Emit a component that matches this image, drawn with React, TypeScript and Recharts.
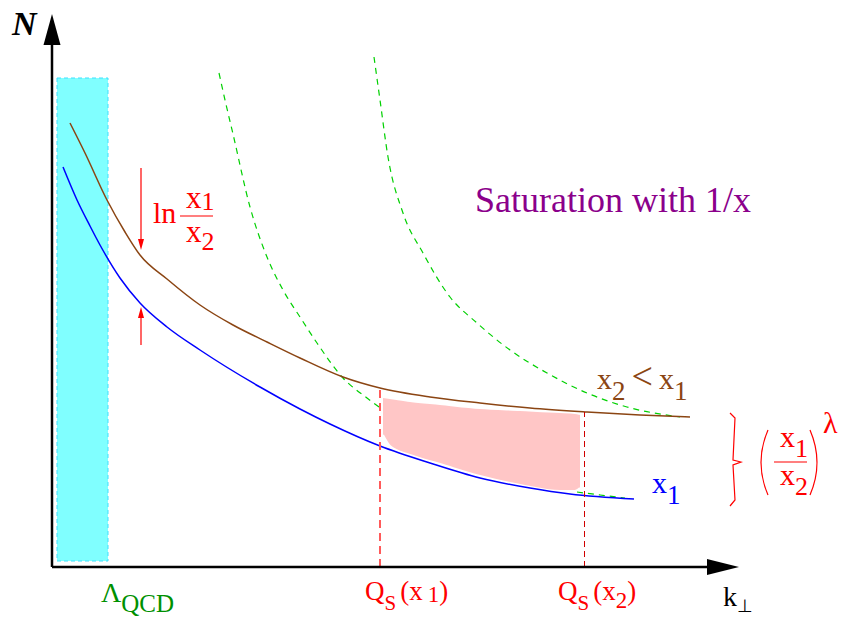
import React from "react";
import { ComposedChart, Line, Area, XAxis, YAxis, ReferenceArea, ReferenceLine, ReferenceDot } from "recharts";

// schematic units: x = k_perp, y = N, origin at the corner of the axes
const brownCurve: [number, number][] = [
  [18, 444], [33, 414], [55, 367], [73, 335], [88, 312], [115, 288], [148, 262], [181, 242],
  [215, 225], [248, 209], [291, 190], [328, 179], [378, 170], [428, 164], [478, 159], [535, 155],
  [588, 152], [638, 150],
];
const blueCurve: [number, number][] = [
  [11, 400], [25, 367], [38, 341], [48, 322], [68, 289], [88, 264], [115, 240], [148, 217],
  [208, 180], [248, 158], [278, 143], [328, 121], [378, 104], [428, 89], [478, 79], [518, 73],
  [582, 68],
];
// saturation curve for x1: the part hidden under the shaded band is left out
const satCurve1Upper: [number, number][] = [
  [167, 494], [173, 467], [181, 433], [198, 360], [215, 310], [231, 277], [248, 250], [265, 224],
  [291, 189], [315, 169], [331, 157],
];
const satCurve1Lower: [number, number][] = [
  [525, 75], [548, 72], [573, 69],
];
const satCurve2: [number, number][] = [
  [322, 510], [328, 467], [336, 410], [351, 354], [371, 314], [398, 270], [425, 244], [458, 217],
  [495, 194], [535, 174], [575, 160], [628, 150],
];
// shaded region between Q_S(x1) and Q_S(x2): [x, low, high]
const pinkBand: [number, number, number][] = [
  [331, 132, 170], [338, 121, 169], [358, 112, 166], [388, 103, 163], [428, 91, 159],
  [468, 82, 157], [508, 76, 155], [523, 76, 154], [528, 79, 153],
];
const braceLine: [number, number][] = [
  [678, 154], [683, 149], [681, 107], [689, 105], [681, 102], [683, 67], [678, 61],
];

const toXY = (arr: [number, number][]) => arr.map(([x, y]) => ({ x, y }));
const bandData = pinkBand.map(([x, lo, hi]) => ({ x, range: [lo, hi] }));

const SERIF = '"Liberation Serif", "Times New Roman", serif';

const txt = (render: (cx: number, cy: number) => React.ReactNode) => (p: any) => <g>{render(p.cx, p.cy)}</g>;

const lineProps = { dot: false, activeDot: false, isAnimationActive: false } as const;

export default function App() {
  return (
    <div style={{ position: "absolute", left: 0, top: 0, background: "#fff" }}>
      <ComposedChart width={843} height={620} margin={{ top: 0, right: 0, bottom: 0, left: 0 }}>
        <XAxis type="number" dataKey="x" domain={[-52, 791]} hide allowDataOverflow />
        <YAxis type="number" domain={[-53, 567]} hide allowDataOverflow />

        <ReferenceArea x1={5} x2={56} y1={6} y2={489} fill="#80ffff" fillOpacity={1}
          stroke="#3ee0ff" strokeDasharray="4 3" ifOverflow="visible" />

        <Area data={bandData} dataKey="range" type="monotone" fill="#ffc6c6" fillOpacity={1}
          stroke="#ffffff" strokeWidth={2} {...lineProps} />
        <Line data={toXY(satCurve1Upper)} dataKey="y" type="monotone" stroke="#00d000" strokeWidth={1.2}
          strokeDasharray="6 5" {...lineProps} />
        <Line data={toXY(satCurve1Lower)} dataKey="y" type="monotone" stroke="#00d000" strokeWidth={1.2}
          strokeDasharray="6 5" {...lineProps} />
        <Line data={toXY(satCurve2)} dataKey="y" type="monotone" stroke="#00d000" strokeWidth={1.2}
          strokeDasharray="6 5" {...lineProps} />
        <Line data={toXY(brownCurve)} dataKey="y" type="monotone" stroke="#8b4513" strokeWidth={1.5}
          {...lineProps} />
        <Line data={toXY(blueCurve)} dataKey="y" type="monotone" stroke="#0000ff" strokeWidth={1.5}
          {...lineProps} />
        <Line data={toXY(braceLine)} dataKey="y" type="linear" stroke="#ff0000" strokeWidth={1.2}
          {...lineProps} />

        {/* Q_S markers */}
        <ReferenceLine segment={[{ x: 328, y: 0 }, { x: 328, y: 179 }]} stroke="#ff5a5a" strokeWidth={2}
          strokeDasharray="8 5" ifOverflow="visible" />
        <ReferenceLine segment={[{ x: 532.5, y: 0 }, { x: 532.5, y: 155 }]} stroke="#d00000" strokeWidth={1}
          strokeDasharray="6 4" ifOverflow="visible" />

        {/* axes */}
        <ReferenceLine segment={[{ x: 0, y: 0 }, { x: 658, y: 0 }]} stroke="#000" strokeWidth={2.5} ifOverflow="visible" />
        <ReferenceLine segment={[{ x: 0, y: 0 }, { x: 0, y: 525 }]} stroke="#000" strokeWidth={2.5} ifOverflow="visible" />
        <ReferenceDot x={687} y={0} ifOverflow="visible"
          shape={txt((cx, cy) => <polygon points={`${cx},${cy} ${cx - 32},${cy - 8} ${cx - 32},${cy + 8}`} fill="#000" />)} />
        <ReferenceDot x={0} y={553} ifOverflow="visible"
          shape={txt((cx, cy) => <polygon points={`${cx},${cy} ${cx - 8.5},${cy + 31} ${cx + 8.5},${cy + 31}`} fill="#000" />)} />

        {/* ln(x1/x2) arrows */}
        <ReferenceLine segment={[{ x: 89, y: 399 }, { x: 89, y: 325 }]} stroke="#ff0000" strokeWidth={1.2} ifOverflow="visible" />
        <ReferenceLine segment={[{ x: 89, y: 222 }, { x: 89, y: 252 }]} stroke="#ff0000" strokeWidth={1.2} ifOverflow="visible" />
        <ReferenceDot x={89} y={317} ifOverflow="visible"
          shape={txt((cx, cy) => <polygon points={`${cx},${cy} ${cx - 3},${cy - 11} ${cx + 3},${cy - 11}`} fill="#ff0000" />)} />
        <ReferenceDot x={89} y={260} ifOverflow="visible"
          shape={txt((cx, cy) => <polygon points={`${cx},${cy} ${cx - 3},${cy + 11} ${cx + 3},${cy + 11}`} fill="#ff0000" />)} />

        {/* fraction bars and parentheses */}
        <ReferenceLine segment={[{ x: 128, y: 351 }, { x: 161, y: 351 }]} stroke="#ff0000" strokeWidth={1.2} ifOverflow="visible" />
        <ReferenceLine segment={[{ x: 722, y: 105 }, { x: 755, y: 105 }]} stroke="#ff0000" strokeWidth={1.2} ifOverflow="visible" />
        <ReferenceDot x={716} y={137} ifOverflow="visible"
          shape={txt((cx, cy) => <path d={`M${cx},${cy} Q${cx - 14},${cy + 32.5} ${cx},${cy + 65}`} stroke="#ff0000" strokeWidth={1.2} fill="none" />)} />
        <ReferenceDot x={758} y={137} ifOverflow="visible"
          shape={txt((cx, cy) => <path d={`M${cx},${cy} Q${cx + 14},${cy + 32.5} ${cx},${cy + 65}`} stroke="#ff0000" strokeWidth={1.2} fill="none" />)} />

        {/* labels */}
        <ReferenceDot x={-40} y={532} ifOverflow="visible" shape={txt((cx, cy) =>
          <text x={cx} y={cy} fontFamily={SERIF} fontSize={34} fontWeight="bold" fontStyle="italic" fill="#000">N</text>)} />
        <ReferenceDot x={423} y={355} ifOverflow="visible" shape={txt((cx, cy) =>
          <text x={cx} y={cy} fontFamily={SERIF} fontSize={36} fill="#8b008b">Saturation with 1/x</text>)} />
        <ReferenceDot x={101} y={344} ifOverflow="visible" shape={txt((cx, cy) =>
          <text x={cx} y={cy} fontFamily={SERIF} fontSize={30} fill="#ff0000">ln</text>)} />
        <ReferenceDot x={134} y={359} ifOverflow="visible" shape={txt((cx, cy) =>
          <text x={cx} y={cy} fontFamily={SERIF} fontSize={31} fill="#ff0000">x<tspan dy={2} fontSize={26}>1</tspan></text>)} />
        <ReferenceDot x={134} y={325} ifOverflow="visible" shape={txt((cx, cy) =>
          <text x={cx} y={cy} fontFamily={SERIF} fontSize={31} fill="#ff0000">x<tspan dy={8} fontSize={26}>2</tspan></text>)} />
        <ReferenceDot x={545} y={178} ifOverflow="visible" shape={txt((cx, cy) =>
          <text x={cx} y={cy} fontFamily={SERIF} fontSize={30} fill="#8b4513">x<tspan dy={11} fontSize={27}>2</tspan><tspan dy={-11} dx={6} fontSize={38}>&lt;</tspan><tspan dx={6} fontSize={30}>x</tspan><tspan dy={11} fontSize={27}>1</tspan></text>)} />
        <ReferenceDot x={600} y={74} ifOverflow="visible" shape={txt((cx, cy) =>
          <text x={cx} y={cy} fontFamily={SERIF} fontSize={30} fill="#0000ff">x<tspan dy={11} fontSize={27}>1</tspan></text>)} />
        <ReferenceDot x={728} y={120} ifOverflow="visible" shape={txt((cx, cy) =>
          <text x={cx} y={cy} fontFamily={SERIF} fontSize={30} fill="#ff0000">x<tspan dy={10} fontSize={26}>1</tspan></text>)} />
        <ReferenceDot x={728} y={82} ifOverflow="visible" shape={txt((cx, cy) =>
          <text x={cx} y={cy} fontFamily={SERIF} fontSize={30} fill="#ff0000">x<tspan dy={10} fontSize={26}>2</tspan></text>)} />
        <ReferenceDot x={771} y={134} ifOverflow="visible" shape={txt((cx, cy) =>
          <text x={cx} y={cy} fontFamily={SERIF} fontSize={30} fill="#ff0000">λ</text>)} />
        <ReferenceDot x={49} y={-35} ifOverflow="visible" shape={txt((cx, cy) =>
          <text x={cx} y={cy} fontFamily={SERIF} fontSize={28} fill="#009000">Λ<tspan dy={10} fontSize={25}>QCD</tspan></text>)} />
        <ReferenceDot x={313} y={-33} ifOverflow="visible" shape={txt((cx, cy) =>
          <text x={cx} y={cy} fontFamily={SERIF} fontSize={27} fill="#ff0000">Q<tspan dy={10} fontSize={21}>S</tspan><tspan dy={-10} dx={4} fontSize={27}>(x</tspan><tspan dy={2} dx={5} fontSize={23}>1</tspan><tspan dy={-2} fontSize={27}>)</tspan></text>)} />
        <ReferenceDot x={506} y={-33} ifOverflow="visible" shape={txt((cx, cy) =>
          <text x={cx} y={cy} fontFamily={SERIF} fontSize={27} fill="#ff0000">Q<tspan dy={10} fontSize={21}>S</tspan><tspan dy={-10} dx={4} fontSize={27}>(x</tspan><tspan dy={8} fontSize={23}>2</tspan><tspan dy={-8} fontSize={27}>)</tspan></text>)} />
        <ReferenceDot x={671} y={-39} ifOverflow="visible" shape={txt((cx, cy) =>
          <text x={cx} y={cy} fontFamily={SERIF} fontSize={28} fill="#000">k<tspan dy={6} fontSize={18}>⊥</tspan></text>)} />
      </ComposedChart>
    </div>
  );
}
